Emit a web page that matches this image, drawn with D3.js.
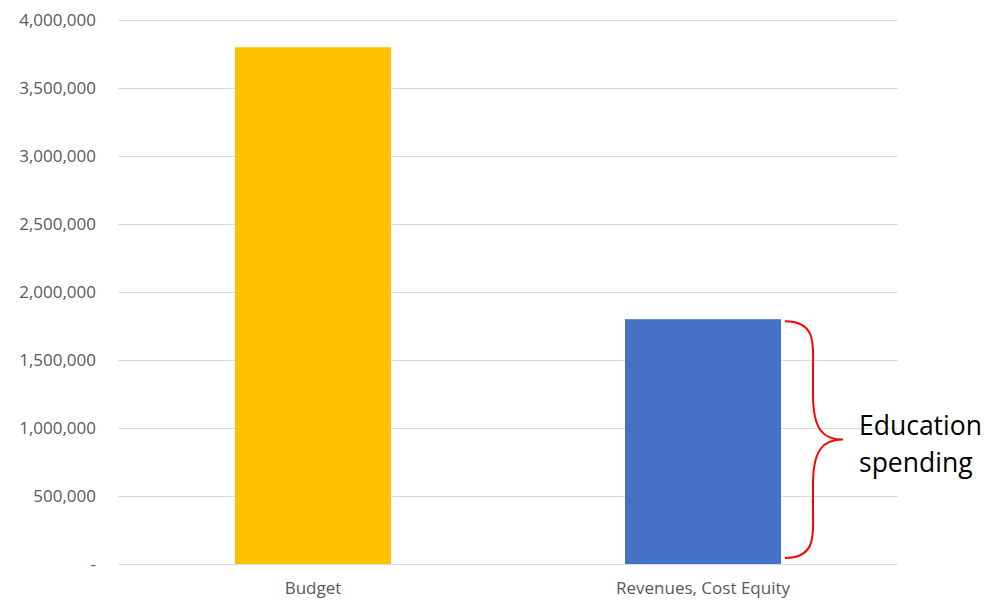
<!DOCTYPE html>
<html>
<head>
<meta charset="utf-8">
<script src="https://cdn.jsdelivr.net/npm/d3@7"></script>
<style>
  body { margin: 0; background: #fff; }
  text { font-family: "Open Sans", "Noto Sans", sans-serif; }
</style>
</head>
<body>
<script>
// data
const categories = ["Budget", "Revenues, Cost Equity"];
const values = [3800000, 1800000];
const barColors = ["#ffc000", "#4472c4"];
const yTicks = [0, 500000, 1000000, 1500000, 2000000, 2500000, 3000000, 3500000, 4000000];
const braceLabel = ["Education", "spending"];

const W = 984, H = 600;
const margin = { top: 20, right: 86, bottom: 36, left: 118 };
const width = W - margin.left - margin.right,
  height = H - margin.top - margin.bottom;

const svg = d3.select("body")
  .append("svg")
  .attr("width", W)
  .attr("height", H)
  .append("g")
  .attr("transform", `translate(${margin.left}, ${margin.top})`);

const x = d3.scaleBand().domain(categories).range([0, width]).paddingInner(0.6).paddingOuter(0.3);
const y = d3.scaleLinear().domain([0, 4000000]).range([height, 0]);

// gridlines
svg.selectAll(".grid")
  .data(yTicks)
  .enter()
  .append("line")
  .attr("x1", 0)
  .attr("x2", width)
  .attr("y1", d => y(d) + 0.5)
  .attr("y2", d => y(d) + 0.5)
  .attr("stroke", "#d9d9d9")
  .attr("stroke-width", 1);

// y axis labels
const fmt = d3.format(",");
const axisLeft = d3.axisLeft(y).tickValues(yTicks)
  .tickFormat(d => d === 0 ? "-" : fmt(d)).tickSize(0).tickPadding(22);
const gy = svg.append("g").call(axisLeft);
gy.select(".domain").remove();
gy.selectAll("text").attr("fill", "#595959").style("font-size", "17px");

// bars
svg.selectAll(".bar")
  .data(values)
  .enter()
  .append("rect")
  .attr("x", (d, i) => x(categories[i]))
  .attr("y", d => y(d))
  .attr("width", x.bandwidth())
  .attr("height", d => y(0) - y(d))
  .attr("fill", (d, i) => barColors[i]);

// baseline
svg.append("line")
  .attr("x1", 0).attr("x2", width)
  .attr("y1", y(0) + 0.5).attr("y2", y(0) + 0.5)
  .attr("stroke", "#d9d9d9");

// x axis labels
const axisBottom = d3.axisBottom(x).tickSize(0).tickPadding(18);
const gx = svg.append("g").attr("transform", `translate(0, ${height})`).call(axisBottom);
gx.select(".domain").remove();
gx.selectAll("text").attr("fill", "#595959").style("font-size", "17px");

// brace next to second bar
const bx = x(categories[1]) + x.bandwidth() + 4;
const bTop = y(values[1]) + 2, bBot = y(0) - 6;
const mid = (bTop + bBot) / 2;
const d1 = 28, d2 = 30;
const brace = `M${bx},${bTop}
  C${bx + d1 + 4},${bTop} ${bx + d1},${bTop + 25} ${bx + d1},${bTop + 45}
  L${bx + d1},${mid - 45}
  C${bx + d1},${mid - 10} ${bx + d1 + 10},${mid} ${bx + d1 + d2},${mid}
  C${bx + d1 + 10},${mid} ${bx + d1},${mid + 10} ${bx + d1},${mid + 45}
  L${bx + d1},${bBot - 45}
  C${bx + d1},${bBot - 25} ${bx + d1 + 4},${bBot} ${bx},${bBot}`;
svg.append("path")
  .attr("d", brace)
  .attr("fill", "none")
  .attr("stroke", "#ff0000")
  .attr("stroke-width", 2);

svg.selectAll(".lbl")
  .data(braceLabel)
  .enter()
  .append("text")
  .attr("x", bx + d1 + d2 + 16)
  .attr("y", (d, i) => mid - 5 + i * 37)
  .attr("fill", "#000")
  .style("font-size", "26.5px")
  .text(d => d);
</script>
</body>
</html>
